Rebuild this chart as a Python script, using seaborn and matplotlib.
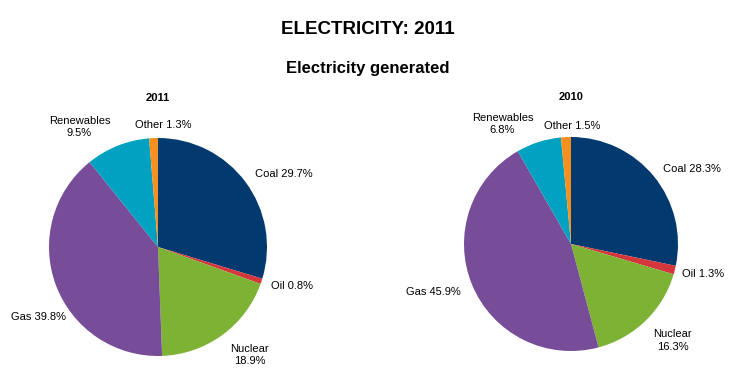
import matplotlib.pyplot as plt
import seaborn as sns

sns.set_theme(style="white")
plt.rcParams['font.family'] = ['Liberation Sans', 'DejaVu Sans']
plt.rcParams['text.color'] = 'black'

sources = ['Coal', 'Oil', 'Nuclear', 'Gas', 'Renewables', 'Other']
share_2011 = [29.7, 0.8, 18.9, 39.8, 9.5, 1.3]
share_2010 = [28.3, 1.3, 16.3, 45.9, 6.8, 1.5]
colors = sns.color_palette(['#023a70', '#d5363c', '#7db234', '#774c99', '#00a1c1', '#f8901f'])

# label anchor spots (relative to pie centre, radius = 1) and alignment
pos_2011 = [(0.89, 0.67, 'left'), (1.04, -0.36, 'left'), (0.84, -0.99, 'center'),
            (-0.84, -0.64, 'right'), (-0.72, 1.10, 'center'), (0.05, 1.12, 'center')]
pos_2010 = [(0.86, 0.70, 'left'), (1.04, -0.28, 'left'), (0.95, -0.90, 'center'),
            (-1.03, -0.45, 'right'), (-0.64, 1.12, 'center'), (0.01, 1.10, 'center')]

W, H = 736, 378
fig = plt.figure(figsize=(W / 100, H / 100), dpi=100)

fig.text(0.5, 1 - 29 / H, 'ELECTRICITY: 2011', ha='center', va='center',
         fontsize=13.5, fontweight='bold')
fig.text(0.5, 1 - 68 / H, 'Electricity generated', ha='center', va='center',
         fontsize=12, fontweight='bold')


def draw_pie(cx, cy, r, values, positions, year):
    ax = fig.add_axes([(cx - r) / W, (H - cy - r) / H, 2 * r / W, 2 * r / H])
    ax.pie(values, colors=colors, startangle=90, counterclock=False,
           wedgeprops=dict(linewidth=0))
    ax.set_xlim(-1, 1)
    ax.set_ylim(-1, 1)
    ax.set_aspect('equal')
    ax.axis('off')
    for name, val, (x, y, ha) in zip(sources, values, positions):
        if name in ('Nuclear', 'Renewables'):
            label = f'{name}\n{val:.1f}%'
        else:
            label = f'{name} {val:.1f}%'
        ax.text(x, y, label, ha=ha, va='center', fontsize=8,
                linespacing=1.3)
    ax.text(0, 1.37, year, ha='center', va='center', fontsize=8, fontweight='bold')


draw_pie(158, 247, 109, share_2011, pos_2011, '2011')
draw_pie(571, 244, 107, share_2010, pos_2010, '2010')

fig.savefig('out.png', dpi=100)
